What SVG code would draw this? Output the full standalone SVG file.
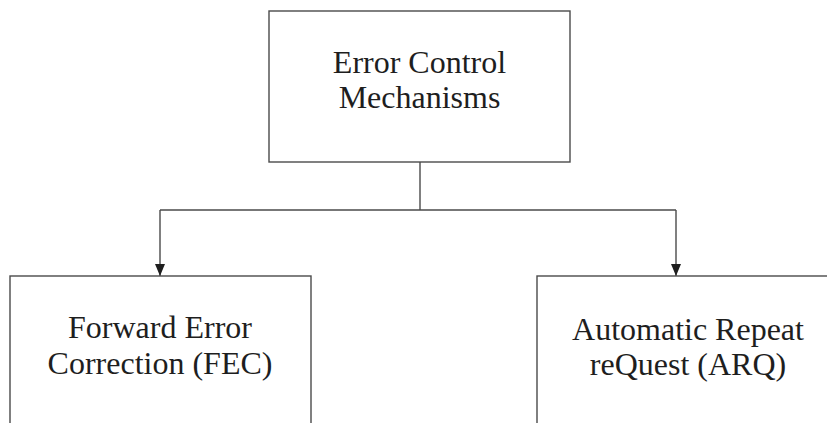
<svg xmlns="http://www.w3.org/2000/svg" width="827" height="423" viewBox="0 0 827 423">
  <style>
    .box { fill: #ffffff; stroke: #4a4a4a; stroke-width: 1.4; }
    .lbl { font-family: "Liberation Serif", "Times New Roman", serif; font-size: 32px; fill: #1e1e1e; text-anchor: middle; }
    .wire { fill: none; stroke: #4a4a4a; stroke-width: 1.4; }
  </style>
  <defs>
    <!-- solid arrowhead, drawn along +x so orient="auto" turns it to the line direction -->
    <marker id="arrow" viewBox="0 0 12 10" refX="12" refY="5" markerWidth="12" markerHeight="10" markerUnits="userSpaceOnUse" orient="auto">
      <path d="M0,0 L12,5 L0,10 Z" fill="#1e1e1e"/>
    </marker>
  </defs>
  <rect width="827" height="423" fill="#ffffff"/>

  <g id="connectors">
    <path class="wire" d="M420,162 V210"/>
    <path class="wire" d="M160,210 H676"/>
    <path class="wire" d="M160,210 V276" marker-end="url(#arrow)"/>
    <path class="wire" d="M676,210 V276" marker-end="url(#arrow)"/>
  </g>

  <g id="node-error-control">
    <rect class="box" x="269" y="11" width="301" height="151"/>
    <text class="lbl" x="419.5" y="72.7">Error Control</text>
    <text class="lbl" x="419.5" y="108.3">Mechanisms</text>
  </g>

  <g id="node-fec">
    <rect class="box" x="10" y="276" width="301" height="160"/>
    <text class="lbl" x="160" y="337.7">Forward Error</text>
    <text class="lbl" x="160" y="374">Correction (FEC)</text>
  </g>

  <g id="node-arq">
    <rect class="box" x="537" y="276" width="301" height="160"/>
    <text class="lbl" x="688" y="340">Automatic Repeat</text>
    <text class="lbl" x="688" y="375">reQuest (ARQ)</text>
  </g>
</svg>
